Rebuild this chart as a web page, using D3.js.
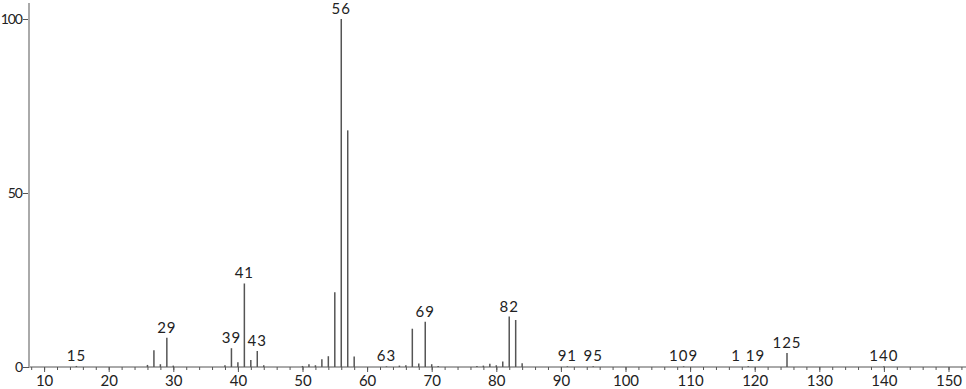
<!DOCTYPE html>
<html>
<head>
<meta charset="utf-8">
<script src="https://cdn.jsdelivr.net/npm/d3@7"></script>
<style>
    body { margin: 0; background: #fff; }
    text { font-family: Lato, 'Liberation Sans', sans-serif; fill: #222; }
</style>
</head>
<body>
<div id="chart"></div>
<script>
// m/z and relative intensity
const mz = [15, 26, 27, 28, 29, 30, 38, 39, 40, 41, 42, 43, 44, 50, 51, 52, 53, 54, 55, 56, 57, 58,
    63, 65, 66, 67, 68, 69, 70, 71, 77, 78, 79, 80, 81, 82, 83, 84, 91, 95, 109, 119, 125, 140];
const intensity = [0.3, 0.6, 4.8, 0.8, 8.4, 0.4, 0.5, 5.4, 1.4, 24, 2.0, 4.6, 0.5, 0.3, 0.8, 0.5, 2.2, 3.1, 21.5, 100, 68, 3.0,
    0.2, 0.4, 0.5, 11, 1.0, 13, 0.8, 0.3, 0.3, 0.4, 0.9, 0.5, 1.6, 14.5, 13.5, 1.1, 0.2, 0.2, 0.2, 0.2, 4.0, 0.2];
// peaks that carry a label
const labelled = [15, 29, 39, 41, 43, 56, 63, 69, 82, 91, 95, 109, 119, 125, 140];
const labelText = ['15', '29', '39', '41', '43', '56', '63', '69', '82', '91', '95', '109', '1 19', '125', '140'];
const xTicks = [10, 20, 30, 40, 50, 60, 70, 80, 90, 100, 110, 120, 130, 140, 150];
const yTicks = [0, 50, 100];

const data = mz.map((m, i) => ({ mz: m, value: intensity[i] }));

const width = 966, height = 389;
const svg = d3.select('#chart').append('svg')
    .attr('width', width)
    .attr('height', height);

// 10 -> 44, 150 -> 948.5
const x = d3.scaleLinear().domain([10, 150]).range([44.1, 948.5]);
const y = d3.scaleLinear().domain([0, 100]).range([367, 19]);

// minor ticks every 2
svg.append('g')
    .attr('transform', `translate(0,${y(0)})`)
    .call(d3.axisBottom(x).tickValues(d3.range(8, 153, 2)).tickSize(3).tickFormat(''))
    .call(g => g.select('.domain').remove())
    .selectAll('line').attr('stroke', '#555');

// x axis
const xAxis = svg.append('g')
    .attr('transform', `translate(0,${y(0)})`)
    .call(d3.axisBottom(x).tickValues(xTicks).tickSize(5).tickPadding(3));
xAxis.select('.domain').remove();
xAxis.selectAll('line').attr('stroke', '#555');
xAxis.selectAll('text').attr('font-size', '15px').attr('fill', '#222');
svg.append('line')
    .attr('x1', 29).attr('x2', width)
    .attr('y1', y(0)).attr('y2', y(0))
    .attr('stroke', '#555').attr('stroke-width', 1);

// y axis
const yAxis = svg.append('g')
    .attr('transform', 'translate(29,0)')
    .call(d3.axisLeft(y).tickValues(yTicks).tickSize(6).tickPadding(1));
yAxis.select('.domain').remove();
yAxis.selectAll('line').attr('stroke', '#555');
yAxis.selectAll('text')
    .attr('font-size', '14px')
    .attr('letter-spacing', '-1px')
    .attr('fill', '#222');
svg.append('line')
    .attr('x1', 29).attr('x2', 29)
    .attr('y1', 3).attr('y2', y(0))
    .attr('stroke', '#aaa').attr('stroke-width', 2);

// peaks
svg.append('g')
    .selectAll('line')
    .data(data)
    .join('line')
    .attr('x1', d => x(d.mz))
    .attr('x2', d => x(d.mz))
    .attr('y1', y(0))
    .attr('y2', d => y(d.value))
    .attr('stroke', '#555')
    .attr('stroke-width', 1.5);

// peak labels
svg.append('g')
    .selectAll('text')
    .data(labelled)
    .join('text')
    .attr('x', d => x(d))
    .attr('y', d => y(data.find(p => p.mz == d).value) - 5)
    .attr('text-anchor', 'middle')
    .attr('font-size', '15px')
    .attr('letter-spacing', '1px')
    .text((d, i) => labelText[i]);
</script>
</body>
</html>
